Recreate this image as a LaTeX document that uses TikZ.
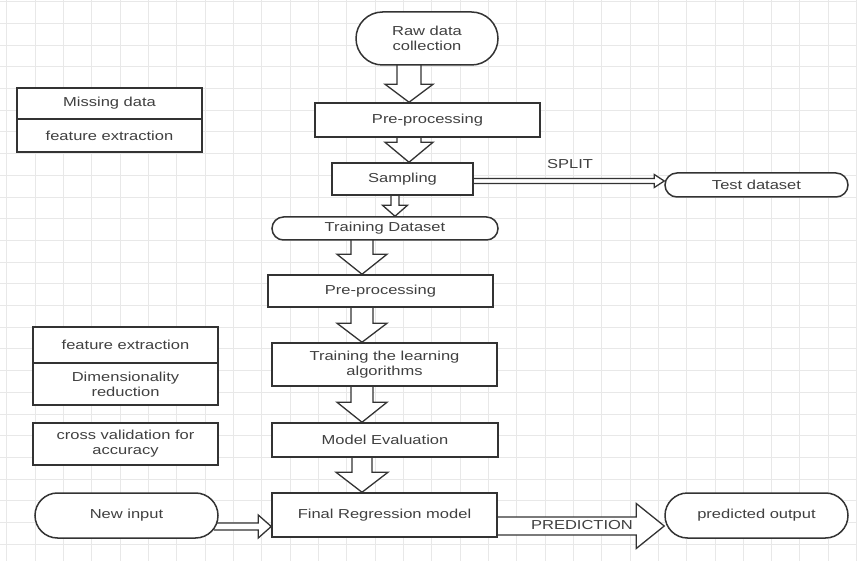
\documentclass[tikz,border=0pt]{standalone}
\usepackage{fontspec}
\setmainfont{Liberation Sans}[FakeStretch=1.27]
\usetikzlibrary{calc}
\pgfdeclarelayer{gridlayer}
\pgfdeclarelayer{arrowlayer}
\pgfsetlayers{gridlayer,arrowlayer,main}
% vertical hollow block arrow: from, to, x-coordinate name, shaft half, head half, head length
\newcommand{\vblk}[6]{%
  \begin{pgfonlayer}{arrowlayer}
  \draw[blk] ($(#3 |- #1.south)+(-#4,-5)$) -- ($(#3 |- #2.north)+(-#4,-#6)$) -- ($(#3 |- #2.north)+(-#5,-#6)$) -- (#3 |- #2.north) -- ($(#3 |- #2.north)+(#5,-#6)$) -- ($(#3 |- #2.north)+(#4,-#6)$) -- ($(#3 |- #1.south)+(#4,-5)$);
  \end{pgfonlayer}}
% horizontal hollow block arrow: from, to, y-coordinate name, shaft half, head half, head length
\newcommand{\hblk}[6]{%
  \begin{pgfonlayer}{arrowlayer}
  \draw[blk] ($(#1.east |- #3)+(-5,-#4)$) -- ($(#2.west |- #3)+(-#6,-#4)$) -- ($(#2.west |- #3)+(-#6,-#5)$) -- (#2.west |- #3) -- ($(#2.west |- #3)+(-#6,#5)$) -- ($(#2.west |- #3)+(-#6,#4)$) -- ($(#1.east |- #3)+(-5,#4)$);
  \end{pgfonlayer}}
\begin{document}
\begin{tikzpicture}[x=1pt,y=-1pt,
  gridline/.style={draw=black!9, line width=0.9pt},
  box/.style={draw=black!80, line width=1.5pt, fill=white, rectangle, inner sep=0pt,
    text=black!75, font=\fontsize{13}{15}\selectfont, align=center},
  stad/.style={box, rounded corners=#1},
  blk/.style={draw=black!80, line width=1.3pt, fill=white, line join=miter},
  lbl/.style={text=black!75, font=\fontsize{13}{15}\selectfont, inner sep=0pt}]
\useasboundingbox (0,0) rectangle (857,561);
\begin{pgfonlayer}{gridlayer}
  \fill[white] (0,0) rectangle (857,561);
  \foreach \i in {0,...,30} {\draw[gridline] (6.7+28.33*\i,0) -- (6.7+28.33*\i,561);}
  \foreach \j in {0,...,25} {\draw[gridline] (0,1.7+21.7*\j) -- (857,1.7+21.7*\j);}
\end{pgfonlayer}

% main flow
\node[stad=26.5pt, minimum width=142pt, minimum height=53pt] (raw) at (427,38.5) {Raw data\\collection};
\node[box, minimum width=225pt, minimum height=34pt] (pre1) at (427.5,120) {Pre-processing};
\node[box, minimum width=141pt, minimum height=32pt] (samp) at (402.5,179) {Sampling};
\node[stad=11.5pt, minimum width=226pt, minimum height=23pt] (trainds) at (385,228.5) {Training Dataset};
\node[stad=12pt, minimum width=183pt, minimum height=24pt] (testds) at (756.5,185) {Test dataset};
\node[box, minimum width=225pt, minimum height=32pt] (pre2) at (380.5,291) {Pre-processing};
\node[box, minimum width=225pt, minimum height=43pt] (train) at (384.5,364.5) {Training the learning\\algorithms};
\node[box, minimum width=226pt, minimum height=34pt] (meval) at (385,440) {Model Evaluation};
\node[box, minimum width=225pt, minimum height=44pt] (final) at (384.5,515) {Final Regression model};
\node[stad=22.5pt, minimum width=183pt, minimum height=45pt] (newin) at (126.5,515.5) {New input};
\node[stad=22.5pt, minimum width=183pt, minimum height=45pt] (pred) at (756.5,515.5) {predicted output};

% side notes
\node[box, minimum width=185pt, minimum height=31pt] (miss) at (109.5,103.5) {Missing data};
\node[box, minimum width=185pt, minimum height=33pt] (feat1) at (109.5,135.5) {feature extraction};
\node[box, minimum width=185pt, minimum height=36pt] (feat2) at (125.5,345) {feature extraction};
\node[box, minimum width=185pt, minimum height=42pt] (dimred) at (125.5,384) {Dimensionality\\reduction};
\node[box, minimum width=185pt, minimum height=42pt] (cross) at (125.5,444) {cross validation for\\accuracy};

% arrow axes
\coordinate (axA) at (409,0);
\coordinate (axB) at (395,0);
\coordinate (axC) at (362,0);
\coordinate (aySplit) at (0,181);
\coordinate (ayNew) at (0,526.5);
\coordinate (ayPred) at (0,526);

\vblk{raw}{pre1}{axA}{12}{24}{18}
\vblk{pre1}{samp}{axA}{12}{24}{20}
\vblk{samp}{trainds}{axB}{4}{12.5}{11}
\vblk{trainds}{pre2}{axC}{11}{25}{20}
\vblk{pre2}{train}{axC}{11}{25}{19}
\vblk{train}{meval}{axC}{11}{25}{20}
\vblk{meval}{final}{axC}{10}{26}{20}

\hblk{samp}{testds}{aySplit}{2.5}{6.5}{10}
\hblk{newin}{final}{ayNew}{3.5}{11.5}{13}
\hblk{final}{pred}{ayPred}{9}{22.5}{28}

\node[lbl] (splitlbl) at (570,164) {SPLIT};
\node[lbl] (predlbl) at (582,525) {PREDICTION};
\end{tikzpicture}
\end{document}
